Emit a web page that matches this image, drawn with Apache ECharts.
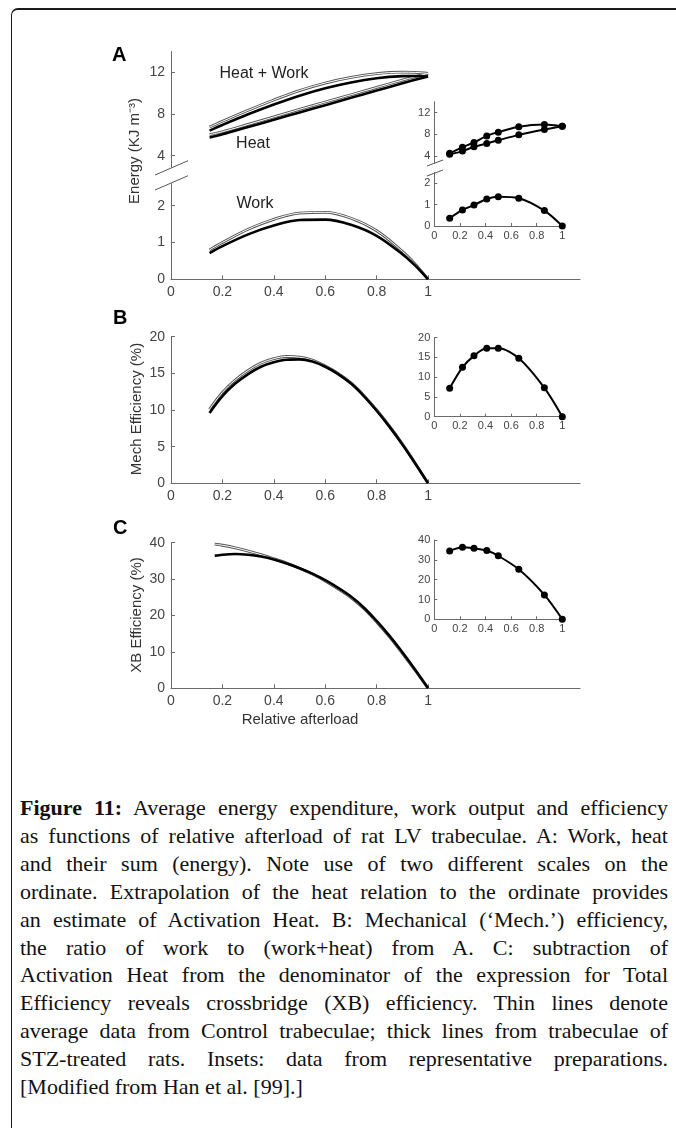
<!DOCTYPE html>
<html><head><meta charset="utf-8">
<script src="https://cdn.jsdelivr.net/npm/echarts@6/dist/echarts.min.js"></script>
<style>
html,body{margin:0;padding:0;background:#fff;overflow:hidden;width:676px;height:1128px}
#frame{position:absolute;left:11px;top:8px;width:720px;height:1160px;border-left:1.5px solid #1a1a1a;border-top:2px solid #1a1a1a;border-top-left-radius:7px;box-sizing:border-box}
#chart{position:absolute;left:0;top:0;width:676px;height:760px}
#caption{position:absolute;left:20px;top:794px;width:648px;font-family:'Liberation Serif','Times New Roman',serif;font-size:22px;line-height:27.9px;color:#111}
#caption div{white-space:nowrap;text-align:justify;text-align-last:justify}
#caption div.last{text-align:left;text-align-last:left}
</style></head>
<body>
<div id="frame"></div>
<div id="chart"></div>
<div id="caption">
<div><b>Figure 11:</b> Average energy expenditure, work output and efficiency</div>
<div>as functions of relative afterload of rat LV trabeculae. A: Work, heat</div>
<div>and their sum (energy). Note use of two different scales on the</div>
<div>ordinate. Extrapolation of the heat relation to the ordinate provides</div>
<div>an estimate of Activation Heat. B: Mechanical (‘Mech.’) efficiency,</div>
<div>the ratio of work to (work+heat) from A. C: subtraction of</div>
<div>Activation Heat from the denominator of the expression for Total</div>
<div>Efficiency reveals crossbridge (XB) efficiency. Thin lines denote</div>
<div>average data from Control trabeculae; thick lines from trabeculae of</div>
<div>STZ-treated rats. Insets: data from representative preparations.</div>
<div class="last">[Modified from Han et al. [99].]</div>
</div>
<script>
// ---------- data ----------
// Panel A (main): relative afterload
const xA = [0.15, 0.2, 0.3, 0.4, 0.5, 0.6, 0.7, 0.8, 0.9, 0.95, 1.0];
const totalControl = [6.75, 7.30, 8.36, 9.35, 10.25, 10.97, 11.51, 11.87, 12.01, 11.99, 11.9];
const totalSTZ = [6.41, 6.95, 7.97, 8.91, 9.76, 10.47, 11.03, 11.43, 11.63, 11.65, 11.6];
const heatControl = [6.02, 6.3, 7.0, 7.72, 8.45, 9.15, 9.85, 10.55, 11.25, 11.58, 11.9];
const heatSTZ = [5.75, 6.05, 6.75, 7.45, 8.15, 8.85, 9.55, 10.25, 10.95, 11.28, 11.6];
const workControl = [0.80, 1.00, 1.36, 1.63, 1.80, 1.82, 1.66, 1.32, 0.76, 0.41, 0];
const workSTZ = [0.71, 0.90, 1.22, 1.46, 1.61, 1.62, 1.48, 1.18, 0.68, 0.37, 0];
// Panel B (main)
const xB = [0.15, 0.2, 0.25, 0.3, 0.35, 0.4, 0.45, 0.5, 0.55, 0.6, 0.65, 0.7, 0.75, 0.8, 0.85, 0.9, 0.95, 1.0];
const mechControl = [10.1, 12.4, 14.1, 15.4, 16.4, 17.0, 17.3, 17.2, 16.8, 16.0, 15.0, 13.7, 12.0, 10.0, 7.8, 5.4, 2.75, 0];
const mechSTZ = [9.6, 11.9, 13.6, 14.9, 15.9, 16.5, 16.85, 16.9, 16.6, 15.9, 14.9, 13.6, 11.9, 9.9, 7.7, 5.3, 2.7, 0];
// Panel C (main)
const xC = [0.17, 0.2, 0.25, 0.3, 0.35, 0.4, 0.45, 0.5, 0.55, 0.6, 0.65, 0.7, 0.75, 0.8, 0.85, 0.9, 0.95, 1.0];
const xbControl = [39.6, 39.3, 38.6, 37.7, 36.7, 35.6, 34.4, 33.0, 31.4, 29.5, 27.3, 24.9, 21.9, 18.2, 14.1, 9.6, 4.9, 0];
const xbSTZ = [36.4, 36.7, 36.9, 36.7, 36.2, 35.4, 34.3, 33.0, 31.5, 29.7, 27.6, 25.2, 22.2, 18.5, 14.4, 9.9, 5.1, 0];
// Insets (representative preparations)
const insetX = [0.12, 0.22, 0.31, 0.41, 0.5, 0.66, 0.86, 1.0];
const insetTotal = [4.5, 5.6, 6.5, 7.7, 8.4, 9.4, 9.8, 9.5];
const insetHeat = [4.3, 4.9, 5.7, 6.3, 6.9, 7.9, 8.9, 9.5];
const insetWork = [0.36, 0.75, 0.98, 1.26, 1.37, 1.30, 0.72, 0];
const insetMech = [7.2, 12.5, 15.4, 17.3, 17.3, 14.8, 7.3, 0];
const insetXB = [34.5, 36.4, 35.8, 34.7, 32.0, 25.2, 12.3, 0];
// Tick labels
const xTicks = [0, 0.2, 0.4, 0.6, 0.8, 1];
const energyHighTicks = [4, 8, 12];
const energyLowTicks = [0, 1, 2];

// ---------- chart ----------
const FONT = "'Liberation Sans', Arial, sans-serif";
const pairs = (xs, ys) => xs.map((x, i) => [x, ys[i]]);
const AXC = '#6a6a6a';

function xAx(gi, max, show, fs, len) {
  return {
    type: 'value', gridIndex: gi, min: 0, max: max, show: show,
    axisLine: { show: true, onZero: false, lineStyle: { color: AXC, width: 1 } },
    axisTick: { show: true, inside: true, length: len, customValues: xTicks, lineStyle: { color: AXC } },
    axisLabel: { customValues: xTicks, color: '#444', fontSize: fs, fontFamily: FONT, margin: fs > 12 ? 6 : 4 },
    splitLine: { show: false }
  };
}
function yAx(gi, min, max, ticks, interval, fs, len) {
  const a = {
    type: 'value', gridIndex: gi, min: min, max: max,
    axisLine: { show: true, onZero: false, lineStyle: { color: AXC, width: 1 } },
    axisTick: { show: true, inside: true, length: len, lineStyle: { color: AXC } },
    axisLabel: { color: '#444', fontSize: fs, fontFamily: FONT, margin: fs > 12 ? 6 : 4 },
    splitLine: { show: false }
  };
  if (ticks) { a.axisTick.customValues = ticks; a.axisLabel.customValues = ticks; }
  else { a.interval = interval; }
  return a;
}
function grid(left, top, width, height) {
  return { left: left, top: top, width: width, height: height, containLabel: false, outerBoundsMode: 'none' };
}
function controlLine(name, gi, data) {
  return [
    { name: name, type: 'line', xAxisIndex: gi, yAxisIndex: gi, data: data, smooth: 0.35, showSymbol: false, symbol: 'none',
      lineStyle: { color: '#555', width: 2.8 }, silent: true, z: 2 },
    { name: name + ' core', type: 'line', xAxisIndex: gi, yAxisIndex: gi, data: data, smooth: 0.35, showSymbol: false, symbol: 'none',
      lineStyle: { color: '#ffffff', width: 1.0 }, silent: true, z: 3 }
  ];
}
function stzLine(name, gi, data) {
  return { name: name, type: 'line', xAxisIndex: gi, yAxisIndex: gi, data: data, smooth: 0.35, showSymbol: false, symbol: 'none',
    lineStyle: { color: '#000', width: 2.6 }, silent: true, z: 4 };
}
function insetLine(name, gi, data) {
  return { name: name, type: 'line', xAxisIndex: gi, yAxisIndex: gi, data: data, smooth: 0.3, symbol: 'circle', symbolSize: 7,
    itemStyle: { color: '#000' }, lineStyle: { color: '#000', width: 2 }, silent: true, z: 4 };
}

const MX = 1.591;
const option = {
  backgroundColor: 'transparent',
  animation: false,
  grid: [
    grid(171, 51.45, 409, 115.75),   // 0 A main upper
    grid(171, 183.6, 409, 95.7),     // 1 A main lower
    grid(171, 336.7, 409, 146.6),    // 2 B main
    grid(171, 542.7, 409, 145.6),    // 3 C main
    grid(434.3, 101.8, 128, 60.7),   // 4 A inset upper
    grid(434.3, 172.5, 128, 53.5),   // 5 A inset lower
    grid(434.3, 337.7, 128, 79),     // 6 B inset
    grid(434.3, 540, 128, 79.3)      // 7 C inset
  ],
  xAxis: [
    xAx(0, MX, false, 14, 4), xAx(1, MX, true, 14, 4), xAx(2, MX, true, 14, 4), xAx(3, MX, true, 14, 4),
    xAx(4, 1, false, 11, 3), xAx(5, 1, true, 11, 3), xAx(6, 1, true, 11, 3), xAx(7, 1, true, 11, 3)
  ],
  yAxis: [
    yAx(0, 2.9, 14, energyHighTicks, null, 14, 4),
    yAx(1, 0, 2.6, energyLowTicks, null, 14, 4),
    yAx(2, 0, 20, null, 5, 14, 4),
    yAx(3, 0, 40, null, 10, 14, 4),
    yAx(4, 2.8, 14, energyHighTicks, null, 11, 3),
    yAx(5, 0, 2.5, energyLowTicks, null, 11, 3),
    yAx(6, 0, 20, null, 5, 11, 3),
    yAx(7, 0, 40, null, 10, 11, 3)
  ],
  series: [].concat(
    controlLine('Heat + Work (Control)', 0, pairs(xA, totalControl)),
    controlLine('Heat (Control)', 0, pairs(xA, heatControl)),
    [stzLine('Heat + Work (STZ)', 0, pairs(xA, totalSTZ)), stzLine('Heat (STZ)', 0, pairs(xA, heatSTZ))],
    controlLine('Work (Control)', 1, pairs(xA, workControl)),
    [stzLine('Work (STZ)', 1, pairs(xA, workSTZ))],
    controlLine('Mech Efficiency (Control)', 2, pairs(xB, mechControl)),
    [stzLine('Mech Efficiency (STZ)', 2, pairs(xB, mechSTZ))],
    controlLine('XB Efficiency (Control)', 3, pairs(xC, xbControl)),
    [stzLine('XB Efficiency (STZ)', 3, pairs(xC, xbSTZ))],
    [
      insetLine('Inset Heat + Work', 4, pairs(insetX, insetTotal)),
      insetLine('Inset Heat', 4, pairs(insetX, insetHeat)),
      insetLine('Inset Work', 5, pairs(insetX, insetWork)),
      insetLine('Inset Mech', 6, pairs(insetX, insetMech)),
      insetLine('Inset XB', 7, pairs(insetX, insetXB))
    ]
  ),
  graphic: [
    { type: 'text', x: 112, y: 55, style: { text: 'A', font: 'bold 20px ' + FONT, fill: '#000', textAlign: 'left', textVerticalAlign: 'middle' } },
    { type: 'text', x: 113, y: 318, style: { text: 'B', font: 'bold 20px ' + FONT, fill: '#000', textAlign: 'left', textVerticalAlign: 'middle' } },
    { type: 'text', x: 113, y: 528, style: { text: 'C', font: 'bold 20px ' + FONT, fill: '#000', textAlign: 'left', textVerticalAlign: 'middle' } },
    { type: 'text', x: 135, y: 151, rotation: Math.PI / 2, style: { text: 'Energy (KJ m⁻³)', font: '15px ' + FONT, fill: '#333', textAlign: 'center', textVerticalAlign: 'middle' } },
    { type: 'text', x: 137, y: 409, rotation: Math.PI / 2, style: { text: 'Mech Efficiency (%)', font: '15px ' + FONT, fill: '#333', textAlign: 'center', textVerticalAlign: 'middle' } },
    { type: 'text', x: 137, y: 615, rotation: Math.PI / 2, style: { text: 'XB Efficiency (%)', font: '15px ' + FONT, fill: '#333', textAlign: 'center', textVerticalAlign: 'middle' } },
    { type: 'text', x: 300, y: 720, style: { text: 'Relative afterload', font: '15px ' + FONT, fill: '#333', textAlign: 'center', textVerticalAlign: 'middle' } },
    { type: 'text', x: 264, y: 74, style: { text: 'Heat + Work', font: '16px ' + FONT, fill: '#222', textAlign: 'center', textVerticalAlign: 'middle' } },
    { type: 'text', x: 253, y: 144, style: { text: 'Heat', font: '16px ' + FONT, fill: '#222', textAlign: 'center', textVerticalAlign: 'middle' } },
    { type: 'text', x: 255, y: 204, style: { text: 'Work', font: '16px ' + FONT, fill: '#222', textAlign: 'center', textVerticalAlign: 'middle' } },
    // axis break marks
    { type: 'line', shape: { x1: 155, y1: 175, x2: 188, y2: 160.7 }, style: { stroke: '#555', lineWidth: 1 } },
    { type: 'line', shape: { x1: 155, y1: 190, x2: 188, y2: 175.7 }, style: { stroke: '#555', lineWidth: 1 } },
    { type: 'line', shape: { x1: 427, y1: 166, x2: 443, y2: 160 }, style: { stroke: '#555', lineWidth: 1 } },
    { type: 'line', shape: { x1: 427, y1: 176, x2: 443, y2: 170 }, style: { stroke: '#555', lineWidth: 1 } }
  ]
};
const chart = echarts.init(document.getElementById('chart'), null, { renderer: 'canvas' });
chart.setOption(option);
</script>
</body></html>
